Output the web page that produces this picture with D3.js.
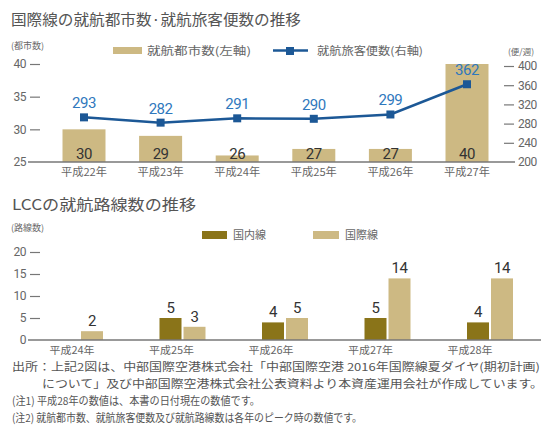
<!DOCTYPE html>
<html>
<head>
<meta charset="utf-8">
<script src="https://cdn.jsdelivr.net/npm/d3@7"></script>
<style>
  html, body { margin: 0; padding: 0; background: #fff; }
  svg { display: block; }
  text { font-family: "Noto Sans CJK JP", "Noto Sans", sans-serif; }
  .num { font-family: "Liberation Sans Narrow", "Roboto", "Noto Sans", sans-serif; letter-spacing: -0.5px; }
</style>
</head>
<body>
<svg id="chart" width="545" height="438"></svg>
<script>
// ---- International routes: cities served & weekly passenger flights ----
const intlYears = ["平成22年", "平成23年", "平成24年", "平成25年", "平成26年", "平成27年"];
const intlCities = [30, 29, 26, 27, 27, 40];
const intlFlights = [293, 282, 291, 290, 299, 362];
const cityTicks = [25, 30, 35, 40];
const flightTicks = [200, 240, 280, 320, 360, 400];

// ---- LCC routes ----
const lccYears = ["平成24年", "平成25年", "平成26年", "平成27年", "平成28年"];
const lccDomestic = [0, 5, 4, 5, 4];
const lccInternational = [2, 3, 5, 14, 14];
const lccTicks = [0, 5, 10, 15, 20];

const footnotes = [
  "出所：上記2図は、中部国際空港株式会社「中部国際空港 2016年国際線夏ダイヤ(期初計画)",
  "について」及び中部国際空港株式会社公表資料より本資産運用会社が作成しています。",
  "(注1) 平成28年の数値は、本書の日付現在の数値です。",
  "(注2) 就航都市数、就航旅客便数及び就航路線数は各年のピーク時の数値です。"
];

const TAN = "#cdb983";
const OLIVE = "#8a7419";
const BLUE = "#1c5896";
const BLUE_TXT = "#2f78bd";
const GREY = "#666";
const AXIS = "#777";

const svg = d3.select("#chart");

// ================= Chart 1 =================
const g1 = svg.append("g");
g1.append("text").attr("x", 11).attr("y", 25)
  .attr("font-size", 15).attr("fill", "#555")
  .attr("textLength", 290).attr("lengthAdjust", "spacingAndGlyphs")
  .text("国際線の就航都市数·就航旅客便数の推移");

g1.append("text").attr("x", 11).attr("y", 49).attr("font-size", 9).attr("fill", GREY).text("(都市数)");
g1.append("text").attr("x", 508).attr("y", 55).attr("font-size", 8.5).attr("fill", GREY).text("(便/週)");

// legend
g1.append("rect").attr("x", 113).attr("y", 47).attr("width", 29).attr("height", 7).attr("fill", TAN);
g1.append("text").attr("x", 147).attr("y", 55).attr("font-size", 11).attr("fill", GREY)
  .attr("textLength", 104).attr("lengthAdjust", "spacingAndGlyphs").text("就航都市数(左軸)");
g1.append("line").attr("x1", 273).attr("x2", 308).attr("y1", 50.5).attr("y2", 50.5)
  .attr("stroke", BLUE).attr("stroke-width", 2.5);
g1.append("rect").attr("x", 286).attr("y", 47).attr("width", 8).attr("height", 8).attr("fill", BLUE);
g1.append("text").attr("x", 317).attr("y", 55).attr("font-size", 11).attr("fill", GREY)
  .attr("textLength", 106).attr("lengthAdjust", "spacingAndGlyphs").text("就航旅客便数(右軸)");

const x1 = d3.scalePoint().domain(intlYears).range([84, 467]);
const yL = d3.scaleLinear().domain([25, 40]).range([162, 64]);
const yR = d3.scaleLinear().domain([200, 400]).range([162, 66]);
const barW1 = 43;

// bars
g1.selectAll("rect.city").data(intlYears).join("rect").attr("class", "city")
  .attr("x", d => x1(d) - barW1 / 2)
  .attr("width", barW1)
  .attr("y", (d, i) => yL(intlCities[i]))
  .attr("height", (d, i) => yL(25) - yL(intlCities[i]))
  .attr("fill", TAN);

// left axis
const leftAxis = d3.axisLeft(yL).tickValues(cityTicks).tickSize(0).tickPadding(0);
const gl = g1.append("g").attr("transform", "translate(28,0)").call(leftAxis);
gl.select(".domain").remove();
gl.selectAll(".tick text").attr("class", "num").attr("font-size", 12).attr("fill", GREY)
  .attr("x", -2).attr("text-anchor", "end");
gl.selectAll(".tick").filter(d => d !== 25).append("line")
  .attr("x1", 2).attr("x2", 12).attr("stroke", AXIS).attr("stroke-width", 1.2);

// right axis
const rightAxis = d3.axisRight(yR).tickValues(flightTicks).tickSize(0).tickPadding(0);
const gr = g1.append("g").attr("transform", "translate(504,0)").call(rightAxis);
gr.select(".domain").remove();
gr.selectAll(".tick text").attr("class", "num").attr("font-size", 12).attr("fill", GREY).attr("x", 14);
gr.selectAll(".tick").filter(d => d !== 200).append("line")
  .attr("x1", 0).attr("x2", 10).attr("stroke", AXIS).attr("stroke-width", 1.2);

// baseline
g1.append("line").attr("x1", 28).attr("x2", 515).attr("y1", yL(25)).attr("y2", yL(25))
  .attr("stroke", AXIS).attr("stroke-width", 1.5);

// bar value labels
g1.selectAll("text.cityVal").data(intlYears).join("text").attr("class", "num cityVal")
  .attr("x", d => x1(d)).attr("y", 159)
  .attr("text-anchor", "middle").attr("font-size", 15).attr("fill", "#333")
  .text((d, i) => intlCities[i]);

// category labels
g1.selectAll("text.cat1").data(intlYears).join("text").attr("class", "cat1")
  .attr("x", d => x1(d)).attr("y", 176)
  .attr("text-anchor", "middle").attr("font-size", 11).attr("fill", GREY)
  .attr("textLength", 46).attr("lengthAdjust", "spacingAndGlyphs")
  .text(d => d);

// flights line
const line = d3.line().x((d, i) => x1(intlYears[i])).y(d => yR(d));
g1.append("path").datum(intlFlights).attr("d", line)
  .attr("fill", "none").attr("stroke", BLUE).attr("stroke-width", 2.5);
g1.selectAll("rect.pt").data(intlFlights).join("rect").attr("class", "pt")
  .attr("x", (d, i) => x1(intlYears[i]) - 4).attr("y", d => yR(d) - 4)
  .attr("width", 8).attr("height", 8).attr("fill", BLUE);
g1.selectAll("text.flVal").data(intlFlights).join("text").attr("class", "num flVal")
  .attr("x", (d, i) => x1(intlYears[i])).attr("y", d => yR(d) - 9)
  .attr("text-anchor", "middle").attr("font-size", 15).attr("fill", BLUE_TXT)
  .text(d => d);

// ================= Chart 2 =================
const g2 = svg.append("g");
g2.append("text").attr("x", 12).attr("y", 210)
  .attr("font-size", 15).attr("fill", "#555")
  .attr("textLength", 184).attr("lengthAdjust", "spacingAndGlyphs")
  .text("LCCの就航路線数の推移");
g2.append("text").attr("x", 11).attr("y", 231).attr("font-size", 9).attr("fill", GREY).text("(路線数)");

// legend
g2.append("rect").attr("x", 202).attr("y", 231).attr("width", 25).attr("height", 8).attr("fill", OLIVE);
g2.append("text").attr("x", 233).attr("y", 239).attr("font-size", 11).attr("fill", GREY).text("国内線");
g2.append("rect").attr("x", 313).attr("y", 231).attr("width", 26).attr("height", 8).attr("fill", TAN);
g2.append("text").attr("x", 345).attr("y", 239).attr("font-size", 11).attr("fill", GREY).text("国際線");

const x2 = d3.scalePoint().domain(lccYears).range([80, 490]);
const x2lab = d3.scalePoint().domain(lccYears).range([72, 470]);
const y2 = d3.scaleLinear().domain([0, 20]).range([340, 252]);
const barW2 = 22;

const axis2 = d3.axisLeft(y2).tickValues(lccTicks).tickSize(0).tickPadding(0);
const ga = g2.append("g").attr("transform", "translate(28,0)").call(axis2);
ga.select(".domain").remove();
ga.selectAll(".tick text").attr("class", "num").attr("font-size", 12).attr("fill", GREY)
  .attr("x", -2).attr("text-anchor", "end");
ga.selectAll(".tick").filter(d => d !== 0).append("line")
  .attr("x1", 2).attr("x2", 12).attr("stroke", AXIS).attr("stroke-width", 1.2);

// bars
const groups = g2.selectAll("g.grp").data(lccYears).join("g").attr("class", "grp");
groups.append("rect")
  .attr("x", d => x2(d) - barW2 - 1)
  .attr("width", barW2)
  .attr("y", (d, i) => y2(lccDomestic[i]))
  .attr("height", (d, i) => y2(0) - y2(lccDomestic[i]))
  .attr("fill", OLIVE);
groups.append("rect")
  .attr("x", d => x2(d) + 1)
  .attr("width", barW2)
  .attr("y", (d, i) => y2(lccInternational[i]))
  .attr("height", (d, i) => y2(0) - y2(lccInternational[i]))
  .attr("fill", TAN);

// value labels
groups.filter((d, i) => lccDomestic[i] > 0).append("text").attr("class", "num")
  .attr("x", d => x2(d) - barW2 / 2 - 1)
  .attr("y", d => y2(lccDomestic[lccYears.indexOf(d)]) - 5)
  .attr("text-anchor", "middle").attr("font-size", 15).attr("fill", "#333")
  .text(d => lccDomestic[lccYears.indexOf(d)]);
groups.append("text").attr("class", "num")
  .attr("x", d => x2(d) + barW2 / 2 + 1)
  .attr("y", (d, i) => y2(lccInternational[i]) - 5)
  .attr("text-anchor", "middle").attr("font-size", 15).attr("fill", "#333")
  .text((d, i) => lccInternational[i]);

// baseline
g2.append("line").attr("x1", 28).attr("x2", 541).attr("y1", y2(0)).attr("y2", y2(0))
  .attr("stroke", AXIS).attr("stroke-width", 1.5);

g2.selectAll("text.cat2").data(lccYears).join("text").attr("class", "cat2")
  .attr("x", d => x2lab(d)).attr("y", 354)
  .attr("text-anchor", "middle").attr("font-size", 10.5).attr("fill", GREY)
  .attr("textLength", 45).attr("lengthAdjust", "spacingAndGlyphs")
  .text(d => d);

// ================= Footnotes =================
const noteX = [12, 42, 12, 12];
const noteY = [371, 388, 405, 422];
const noteW = [528, 501, 248, 350];
svg.selectAll("text.note").data(footnotes).join("text").attr("class", "note")
  .attr("x", (d, i) => noteX[i]).attr("y", (d, i) => noteY[i])
  .attr("font-size", 11).attr("fill", "#555")
  .attr("textLength", (d, i) => noteW[i]).attr("lengthAdjust", "spacingAndGlyphs")
  .text(d => d);
</script>
</body>
</html>
